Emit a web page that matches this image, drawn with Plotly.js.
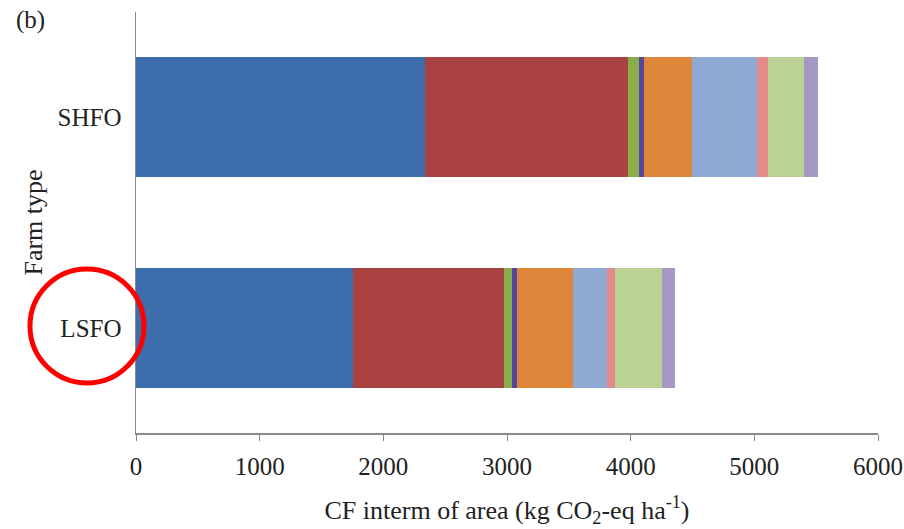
<!DOCTYPE html>
<html>
<head>
<meta charset="utf-8">
<script src="https://cdn.plot.ly/plotly-3.0.1.min.js"></script>
<style>html,body{margin:0;padding:0;background:#fff;}#chart{width:904px;height:529px;}</style>
</head>
<body>
<div id="chart"></div>
<script>
const categories = ['LSFO', 'SHFO'];
const seriesNames = ['C1', 'C2', 'C3', 'C4', 'C5', 'C6', 'C7', 'C8', 'C9'];
const c1 = [1752, 2337];
const c2 = [1224, 1644];
const c3 = [62, 89];
const c4 = [40, 38];
const c5 = [453, 385];
const c6 = [275, 531];
const c7 = [67, 89];
const c8 = [378, 291];
const c9 = [107, 113];
const seriesValues = [c1, c2, c3, c4, c5, c6, c7, c8, c9];
const seriesColors = ['#3D6DAA', '#AA4241', '#8AAF4A', '#5646A0', '#E0863A', '#8EAAD4', '#E4898C', '#BAD394', '#A598C4'];
const xTicks = [0, 1000, 2000, 3000, 4000, 5000, 6000];

const FONT = 'Liberation Serif, Times New Roman, serif';
const traces = seriesValues.map((vals, i) => ({
  type: 'bar',
  orientation: 'h',
  name: seriesNames[i],
  y: categories,
  x: vals,
  marker: {color: seriesColors[i], line: {width: 0}},
  hoverinfo: 'x+name'
}));

const layout = {
  width: 904, height: 529,
  margin: {l: 136, r: 26, t: 12, b: 96},
  barmode: 'stack',
  bargap: 0.43,
  showlegend: false,
  paper_bgcolor: '#fff',
  plot_bgcolor: '#fff',
  font: {family: FONT, color: '#222', size: 25},
  xaxis: {
    range: [0, 6000],
    tickvals: xTicks,
    ticktext: xTicks.map(String),
    showgrid: false,
    zeroline: false,
    showline: true,
    linecolor: '#8a8a8a',
    linewidth: 1.5,
    ticks: 'outside',
    ticklen: 6,
    tickcolor: '#8a8a8a',
    tickfont: {family: FONT, size: 25, color: '#222'},
    ticklabelstandoff: 4,
    title: {text: 'CF interm of area (kg CO<sub>2</sub>-eq ha<sup>-1</sup>)', font: {family: FONT, size: 26, color: '#222'}, standoff: 22}
  },
  yaxis: {
    categoryorder: 'array',
    categoryarray: categories,
    showgrid: false,
    zeroline: false,
    showline: true,
    linecolor: '#8a8a8a',
    linewidth: 1.5,
    ticks: '',
    tickfont: {family: FONT, size: 25, color: '#222'},
    ticklabelstandoff: 8,
    title: {text: 'Farm type', font: {family: FONT, size: 26, color: '#222'}, standoff: 7}
  },
  annotations: [{
    text: '(b)', xref: 'paper', yref: 'paper', x: -0.165, y: 0.981,
    xanchor: 'left', yanchor: 'middle', showarrow: false,
    font: {family: FONT, size: 25, color: '#222'}
  }],
  shapes: [{
    type: 'circle', xref: 'paper', yref: 'paper',
    x0: -0.1429, x1: 0.0108, y0: 0.1188, y1: 0.3895,
    line: {color: '#ff0000', width: 5}, fillcolor: 'rgba(0,0,0,0)', layer: 'above'
  }]
};

Plotly.newPlot('chart', traces, layout, {displayModeBar: false, staticPlot: true});
</script>
</body>
</html>
